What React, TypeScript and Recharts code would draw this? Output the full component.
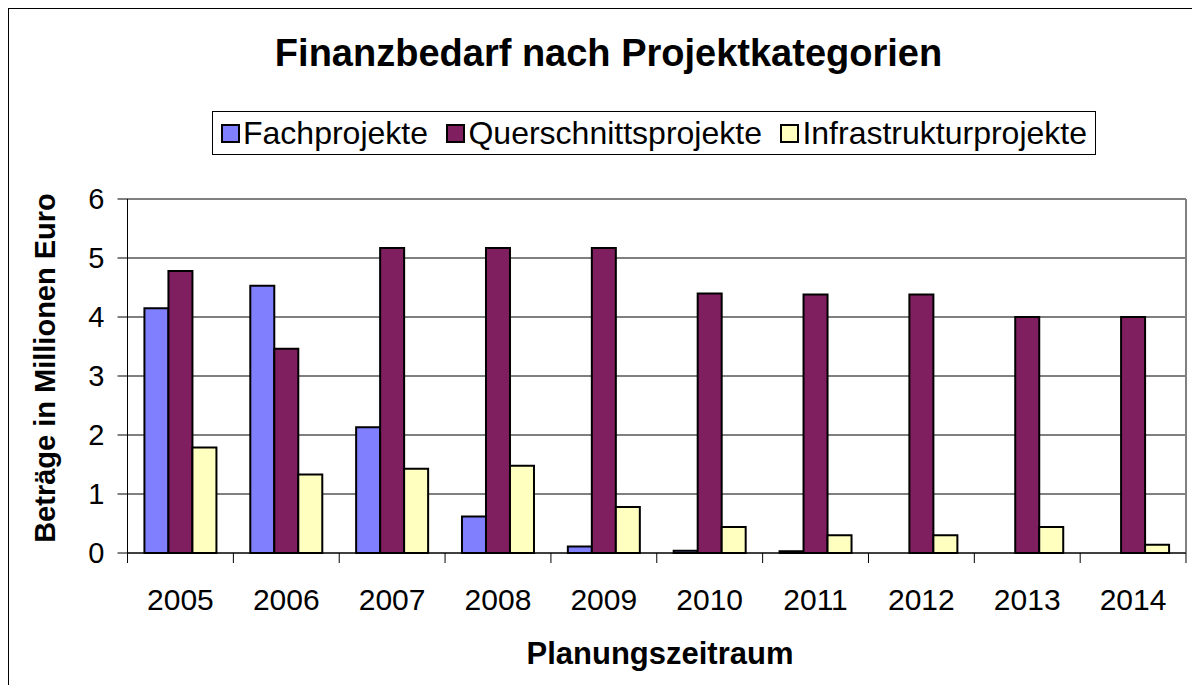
import React from 'react';
import { BarChart, Bar, XAxis, YAxis, CartesianGrid, Legend } from 'recharts';

const years = ['2005', '2006', '2007', '2008', '2009', '2010', '2011', '2012', '2013', '2014'];
const fachprojekte = [4.15, 4.53, 2.13, 0.62, 0.11, 0.04, 0.03, 0, 0, 0];
const querschnittsprojekte = [4.78, 3.46, 5.17, 5.17, 5.17, 4.4, 4.38, 4.38, 4.0, 4.0];
const infrastrukturprojekte = [1.79, 1.33, 1.43, 1.48, 0.78, 0.44, 0.3, 0.3, 0.44, 0.14];
const yTicks = [0, 1, 2, 3, 4, 5, 6];

const series = [
  { key: 'fach', name: 'Fachprojekte', color: '#8080FF' },
  { key: 'quer', name: 'Querschnittsprojekte', color: '#7F1F5F' },
  { key: 'infra', name: 'Infrastrukturprojekte', color: '#FFFFC0' },
];

const data = years.map((year, i) => ({
  year,
  fach: fachprojekte[i],
  quer: querschnittsprojekte[i],
  infra: infrastrukturprojekte[i],
}));

const FONT = '"Liberation Sans", Arial, Helvetica, sans-serif';
const W = 1184;
const H = 676;
const BAND_HALF = 52.9;

const YearTick = (props: any) => {
  const { x, y, payload, index } = props;
  const last = index === years.length - 1;
  return (
    <g>
      <line x1={x - BAND_HALF} y1={y} x2={x - BAND_HALF} y2={y + 10} stroke="#000" />
      {last && <line x1={x + BAND_HALF} y1={y} x2={x + BAND_HALF} y2={y + 10} stroke="#000" />}
      <text x={x} y={y + 46} textAnchor="middle" dominantBaseline="central" fontSize={30} fontFamily={FONT} fill="#000">
        {payload.value}
      </text>
    </g>
  );
};

const LegendBox = () => (
  <div
    style={{
      width: 884,
      height: 44,
      boxSizing: 'border-box',
      border: '1px solid #000',
      background: '#fff',
      display: 'flex',
      alignItems: 'center',
      justifyContent: 'space-between',
      padding: '0 8px',
      fontFamily: FONT,
      fontSize: 32,
      color: '#000',
    }}
  >
    {series.map((s) => (
      <div key={s.key} style={{ display: 'flex', alignItems: 'center', whiteSpace: 'nowrap' }}>
        <span
          style={{
            display: 'inline-block',
            width: 15,
            height: 15,
            border: '2px solid #000',
            background: s.color,
            marginRight: 3,
          }}
        />
        {s.name}
      </div>
    ))}
  </div>
);

export default function App() {
  return (
    <div
      style={{
        position: 'relative',
        width: W,
        height: H,
        borderLeft: '1px solid #000',
        borderTop: '1px solid #000',
        background: '#fff',
        fontFamily: FONT,
      }}
    >
      <div
        style={{
          position: 'absolute',
          left: 599.5,
          top: 44,
          transform: 'translate(-50%, -50%)',
          fontSize: 38,
          fontWeight: 'bold',
          whiteSpace: 'nowrap',
        }}
      >
        Finanzbedarf nach Projektkategorien
      </div>
      <div
        style={{
          position: 'absolute',
          left: 36,
          top: 359,
          transform: 'translate(-50%, -50%) rotate(-90deg)',
          fontSize: 29,
          fontWeight: 'bold',
          whiteSpace: 'nowrap',
        }}
      >
        Beträge in Millionen Euro
      </div>
      <div
        style={{
          position: 'absolute',
          left: 651,
          top: 645,
          transform: 'translate(-50%, -50%)',
          fontSize: 31,
          fontWeight: 'bold',
          whiteSpace: 'nowrap',
        }}
      >
        Planungszeitraum
      </div>
      <div style={{ position: 'absolute', left: 0, top: 0 }}>
        <BarChart
          width={W}
          height={H}
          data={data}
          margin={{ top: 190, right: 7, bottom: 72, left: 58.5 }}
          barCategoryGap="16%"
          barGap={0}
        >
          <CartesianGrid vertical={false} stroke="#000" />
          <CartesianGrid
            horizontalCoordinatesGenerator={({ offset }: any) => [offset.top]}
            verticalCoordinatesGenerator={({ offset }: any) => [offset.left + offset.width]}
            stroke="#808080"
            strokeWidth={2}
          />
          <XAxis
            dataKey="year"
            interval={0}
            height={60}
            tickLine={false}
            tickSize={0}
            tickMargin={0}
            axisLine={{ stroke: '#000' }}
            tick={<YearTick />}
          />
          <YAxis
            domain={[0, 6]}
            ticks={yTicks}
            width={60}
            tickSize={10}
            tickMargin={13}
            axisLine={{ stroke: '#000' }}
            tickLine={{ stroke: '#000' }}
            tick={{ fill: '#000', fontSize: 29, fontFamily: FONT }}
          />
          <Legend
            layout="horizontal"
            verticalAlign="middle"
            align="center"
            wrapperStyle={{ top: 102, left: 203, width: 'auto', height: 'auto' }}
            content={() => <LegendBox />}
          />
          {series.map((s) => (
            <Bar
              key={s.key}
              dataKey={s.key}
              name={s.name}
              fill={s.color}
              stroke="#000"
              strokeWidth={2}
              isAnimationActive={false}
            />
          ))}
        </BarChart>
      </div>
    </div>
  );
}
